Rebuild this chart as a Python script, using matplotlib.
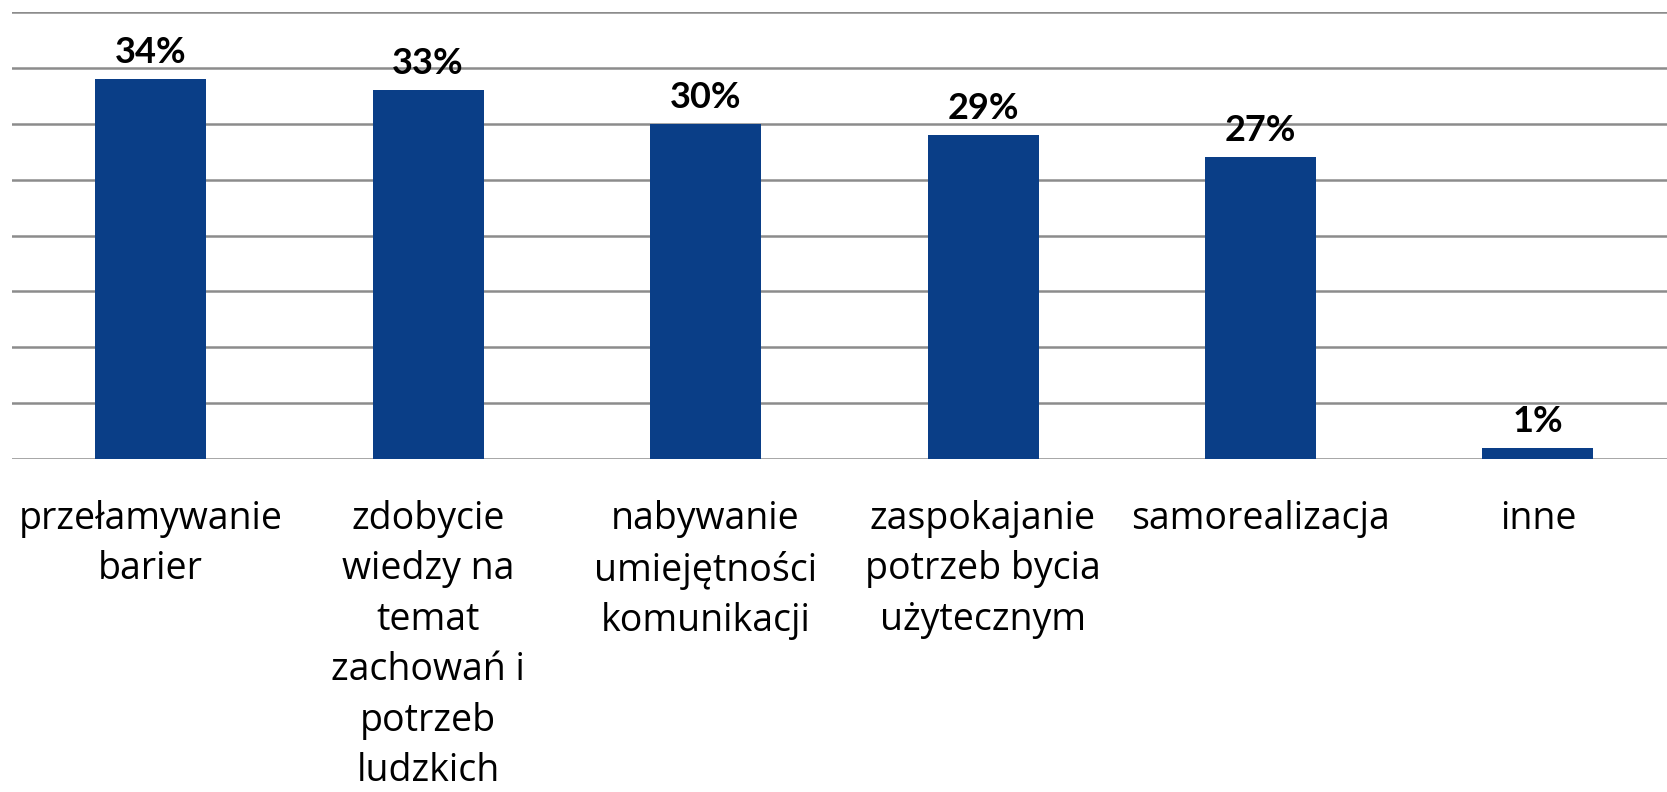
import matplotlib.pyplot as plt
import numpy as np

# dane
kategorie = ["przełamywanie\nbarier",
             "zdobycie\nwiedzy na\ntemat\nzachowań i\npotrzeb\nludzkich",
             "nabywanie\numiejętności\nkomunikacji",
             "zaspokajanie\npotrzeb bycia\nużytecznym",
             "samorealizacja",
             "inne"]
wartosci = [34, 33, 30, 29, 27, 1]
etykiety = ["34%", "33%", "30%", "29%", "27%", "1%"]

fig = plt.figure(figsize=(16.67, 7.92), dpi=100)
# os wychodzi lekko poza prawa krawedz, jak w oryginale
ax = fig.add_axes([12/1667, (792-459)/792, 1664.6/1667, (459-12)/792])

x = np.arange(len(kategorie))
ax.bar(x, wartosci, width=0.4, color='#0a3e87', zorder=3)

for xi, v, t in zip(x, wartosci, etykiety):
    ax.text(xi, v + 1.45, t, ha='center', va='baseline', fontsize=26,
            fontweight='bold', family='Lato', color='black', zorder=4)

ax.set_ylim(0, 40)
ax.set_xlim(-0.5, 5.5)
ax.set_yticks(np.arange(0, 41, 5))
ax.yaxis.grid(True, color='#8c8c8c', linewidth=1.8, zorder=0)
ax.tick_params(axis='y', left=False, labelleft=False)
ax.tick_params(axis='x', bottom=False, pad=26)
ax.set_xticks(x)
ax.set_xticklabels(kategorie, fontsize=27, family='Open Sans', linespacing=1.43, va='top')
for s in ax.spines.values():
    s.set_visible(False)

fig.savefig('out.png', dpi=100)
